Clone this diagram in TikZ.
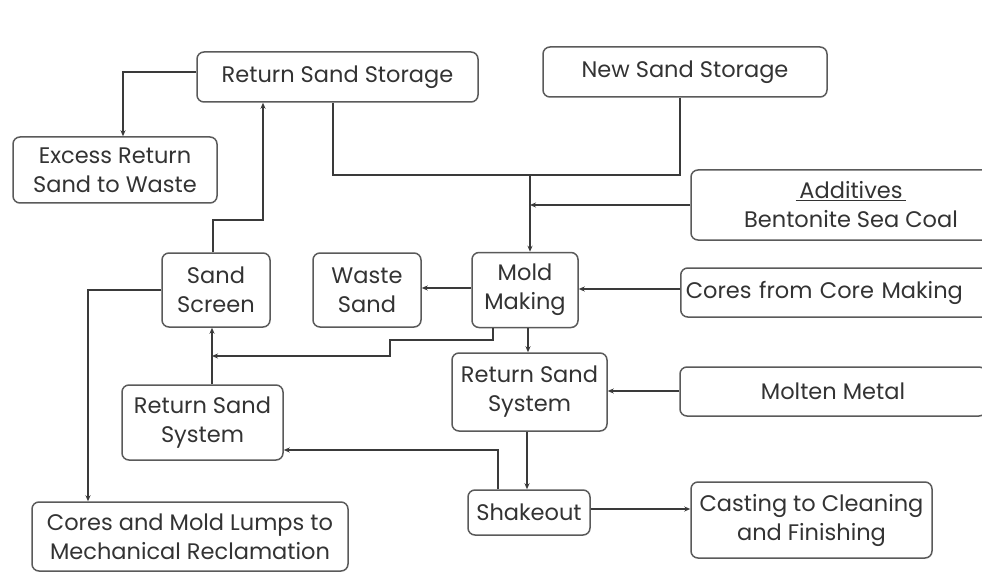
\documentclass[tikz,border=0pt]{standalone}
\usepackage{fontspec}
\setmainfont{Poppins}
\usetikzlibrary{arrows.meta}
\definecolor{linec}{HTML}{3A3A3A}
\definecolor{boxc}{HTML}{5A5A5A}
\definecolor{txtc}{HTML}{333333}
\begin{document}
\begin{tikzpicture}[x=1pt,y=-1pt,
  box/.style={draw=boxc, line width=1.5pt, rounded corners=7pt, inner sep=0pt, align=center, text=txtc, font=\fontsize{22.5}{29}\selectfont},
  conn/.style={draw=linec, line width=1.4pt},
  arr/.style={conn, -{Stealth[length=6pt,width=5pt]}}]
\clip (0,0) rectangle (982,572);
\fill[white] (0,0) rectangle (982,572);
% nodes
\node[box, minimum width=281, minimum height=50] (rss) at (337.5,77) {Return Sand Storage};
\node[box, minimum width=284, minimum height=50] (nss) at (685,72) {New Sand Storage};
\node[box, minimum width=204, minimum height=66] (excess) at (115,170) {Excess Return\\Sand to Waste};
\node[box, minimum width=320, minimum height=70] (add) at (851,205) {\underline{\,Additives\,}\\Bentonite Sea Coal};
\node[box, minimum width=108, minimum height=74] (screen) at (216,290) {Sand\\Screen};
\node[box, minimum width=108, minimum height=74] (waste) at (367,290) {Waste\\Sand};
\node[box, minimum width=106, minimum height=75] (mold) at (525,290) {Mold\\Making};
\node[box, anchor=west, minimum height=49, text width=320, align=left, inner xsep=5pt] (cores) at (680,292.5) {Cores from Core Making};
\node[box, minimum width=306, minimum height=49] (molten) at (833,391.5) {Molten Metal};
\node[box, minimum width=155, minimum height=78] (rsr) at (529.5,392) {Return Sand\\System};
\node[box, minimum width=161, minimum height=75] (rsl) at (202.5,422.5) {Return Sand\\System};
\node[box, minimum width=122, minimum height=45] (shake) at (529,512.5) {Shakeout};
\node[box, minimum width=241, minimum height=76] (cast) at (811.5,520) {Casting to Cleaning\\and Finishing};
\node[box, minimum width=316, minimum height=69] (lumps) at (190,536.5) {Cores and Mold Lumps to\\Mechanical Reclamation};
% helper coordinates
\coordinate (j1) at (263,220);
\coordinate (jm) at (530,175);
\coordinate (k) at (390,356);
\coordinate (vx) at ([xshift=9.5pt]rsl.north);
\coordinate (m1) at ([xshift=3pt]mold.south);
\coordinate (m2) at ([xshift=-2.5pt]rsr.south);
\coordinate (s1) at (498,450);
\coordinate (l1) at (88,300);
\coordinate (sh) at ([yshift=3.5pt]shake.east);
\coordinate (mw) at ([yshift=2pt]mold.west);
\coordinate (cw) at ([yshift=3.5pt]cores.west);
\coordinate (mt) at ([yshift=0.5pt]molten.west);
% connectors
\draw[arr] ([yshift=5pt]rss.west) -| ([xshift=8pt]excess.north);
\draw[arr] ([xshift=-3pt]screen.north) |- (j1) -- (j1 |- rss.south);
\draw[conn] ([xshift=-4.5pt]rss.south) |- (jm);
\draw[conn] ([xshift=-5pt]nss.south) |- (jm);
\draw[arr] (jm) -- (jm |- mold.north);
\draw[arr] (add.west) -- (jm |- add.west);
\draw[arr] (cw) -- (cw -| mold.east);
\draw[arr] (mw) -- (mw -| waste.east);
\draw[arr] ([xshift=-32pt]mold.south) -- (493,340) -- (390,340) -- (k) -- (vx |- k);
\draw[arr] (vx) -- (vx |- screen.south);
\draw[arr] (m1) -- (m1 |- rsr.north);
\draw[arr] (mt) -- (mt -| rsr.east);
\draw[arr] (m2) -- (m2 |- shake.north);
\draw[arr] (s1 |- shake.north) -- (s1) -- (s1 -| rsl.east);
\draw[arr] (screen.west) -| (l1 |- lumps.north);
\draw[arr] (sh) -- (sh -| cast.west);
\end{tikzpicture}
\end{document}
